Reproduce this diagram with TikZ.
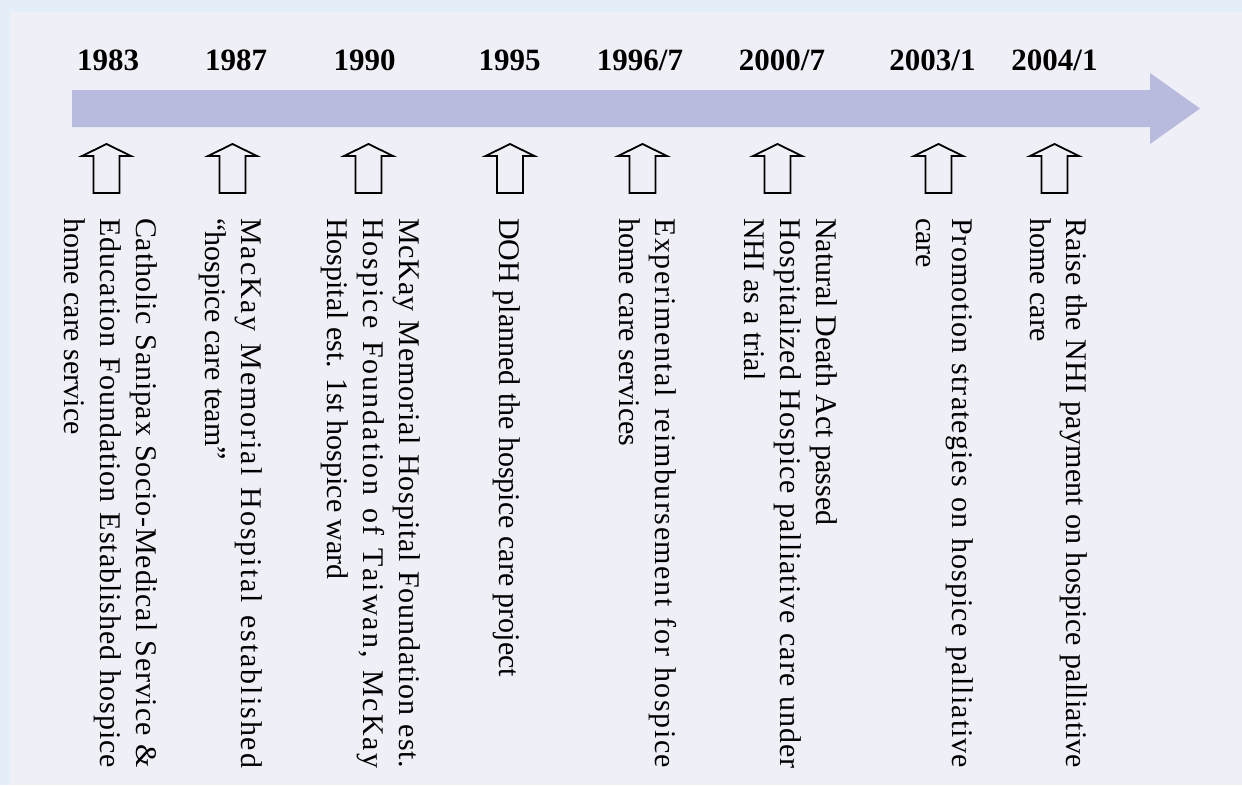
\documentclass[tikz,border=0pt]{standalone}
\usepackage{fontspec}
\setmainfont{Liberation Serif}
\definecolor{outerbg}{RGB}{228,238,249}
\definecolor{innerbg}{RGB}{239,239,247}
\definecolor{barcol}{RGB}{185,187,222}
\makeatletter
\def\spreadline#1{\hbox to 550pt{\spr@words#1 \@nil}}
\def\spr@words#1 #2\@nil{\spr@chars#1\@nil\ifx\relax#2\relax\else\hskip .25em plus 2.5fil\relax\spr@words#2\@nil\fi}
\def\spr@chars#1#2\@nil{#1\ifx\relax#2\relax\else\hskip 0pt plus 1fil\relax\spr@chars#2\@nil\fi}
\makeatother
\begin{document}
\begin{tikzpicture}[x=1pt,y=-1pt,
  year/.style={font=\fontsize{31}{36}\selectfont\bfseries, anchor=base, inner sep=0pt},
  event/.style={font=\fontsize{30}{36}\selectfont, rotate=-90, anchor=north west,
    inner sep=0pt, align=left, execute at begin node={\strut}},
  uparrow/.pic={\draw[line width=1.8pt, line join=miter]
    (0,0) -- (24.5,12) -- (13,12) -- (13,49) -- (-13,49) -- (-13,12) -- (-24.5,12) -- cycle;}]
\useasboundingbox (0,0) rectangle (1242,785);
\fill[outerbg] (0,0) rectangle (1242,785);
\fill[innerbg] (10,12) rectangle (1242,785);
% main timeline arrow
\fill[barcol] (72,90) -- (1150,90) -- (1150,73) -- (1200,108.5) -- (1150,144) -- (1150,127) -- (72,127) -- cycle;
% years
\node[year] (y1983) at (108,70) {1983};
\node[year] (y1987) at (236,70) {1987};
\node[year] (y1990) at (364.5,70) {1990};
\node[year] (y1995) at (509.5,70) {1995};
\node[year] (y1996) at (640,70) {1996/7};
\node[year] (y2000) at (782,70) {2000/7};
\node[year] (y2003) at (932.5,70) {2003/1};
\node[year] (y2004) at (1054.5,70) {2004/1};
% hollow arrows
\pic (a1983) at (106.5,144) {uparrow};
\pic (a1987) at (232.5,144) {uparrow};
\pic (a1990) at (368.5,144) {uparrow};
\pic (a1995) at (510,144) {uparrow};
\pic (a1996) at (642.5,144) {uparrow};
\pic (a2000) at (777.5,144) {uparrow};
\pic (a2003) at (938.5,144) {uparrow};
\pic (a2004) at (1054.5,144) {uparrow};
% event texts
\node[event] (e1983) at (157.2,218) {\spreadline{Catholic Sanipax Socio-Medical Service \&}\\ \spreadline{Education Foundation Established hospice}\\ home care service};
\node[event] (e1987) at (262.2,218) {\spreadline{MacKay Memorial Hospital established}\\ “hospice care team”};
\node[event] (e1990) at (420.2,218) {\spreadline{McKay Memorial Hospital Foundation est.}\\ \spreadline{Hospice Foundation of Taiwan, McKay}\\ Hospital est. 1st hospice ward};
\node[event] (e1995) at (525.2,218) {DOH planned the hospice care project};
\node[event] (e1996) at (677.2,218) {\spreadline{Experimental reimbursement for hospice}\\ home care services};
\node[event] (e2000) at (837.2,218) {Natural Death Act passed\\ \spreadline{Hospitalized Hospice palliative care under}\\ NHI as a trial};
\node[event] (e2003) at (973.2,218) {\spreadline{Promotion strategies on hospice palliative}\\ care};
\node[event] (e2004) at (1087.2,218) {\spreadline{Raise the NHI payment on hospice palliative}\\ home care};
\end{tikzpicture}
\end{document}
